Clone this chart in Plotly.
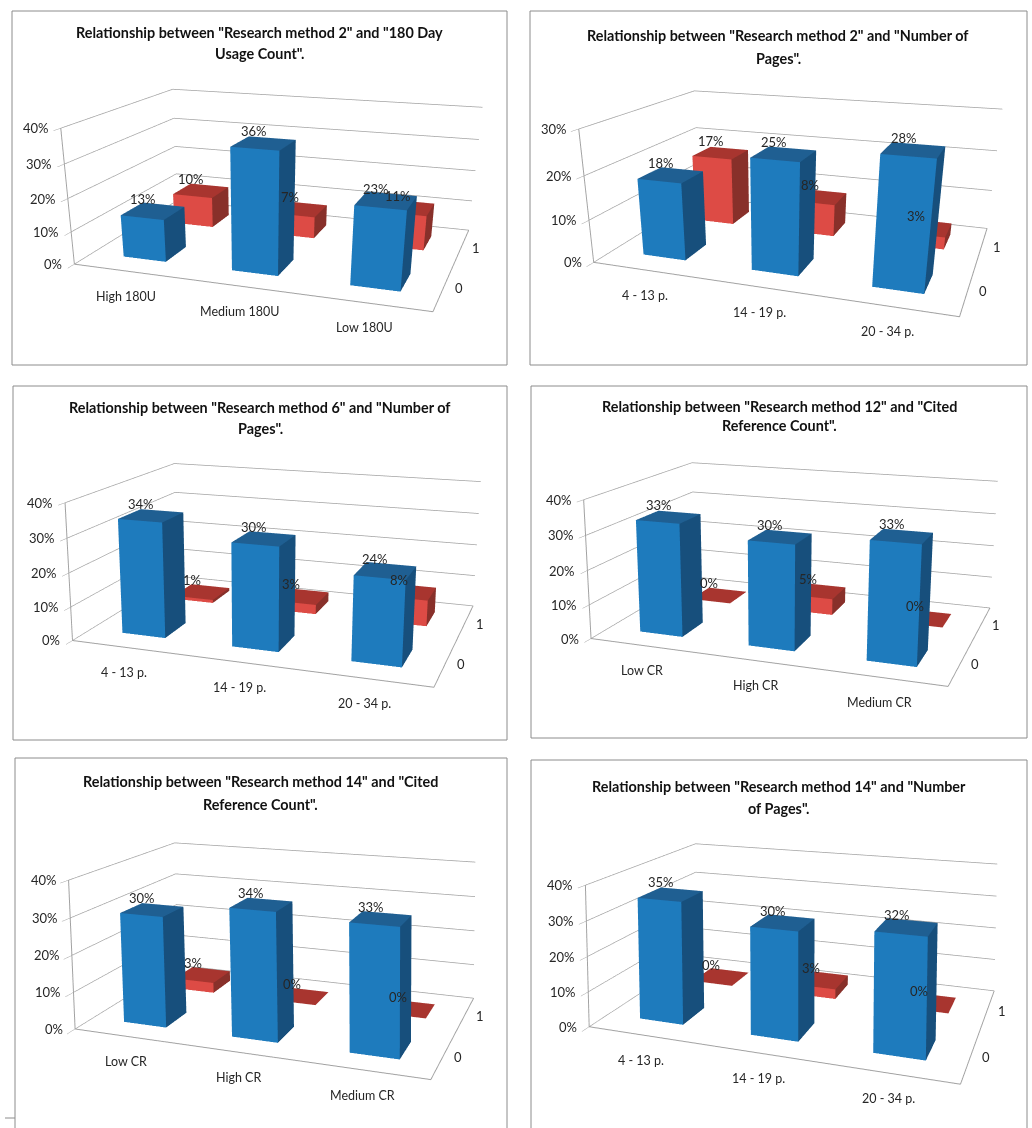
import plotly.graph_objects as go

# ---------- data ----------
title_lines = [
    ['Relationship between "Research method 2" and "180 Day', 'Usage Count".'],
    ['Relationship between "Research method 2" and "Number of', 'Pages".'],
    ['Relationship between "Research method 6" and "Number of', 'Pages".'],
    ['Relationship between "Research method 12" and "Cited', 'Reference Count".'],
    ['Relationship between "Research method 14" and "Cited', 'Reference Count".'],
    ['Relationship between "Research method 14" and "Number', 'of Pages".'],
]
categories = [
    ["High 180U", "Medium 180U", "Low 180U"],
    ["4 - 13 p.", "14 - 19 p.", "20 - 34 p."],
    ["4 - 13 p.", "14 - 19 p.", "20 - 34 p."],
    ["Low CR", "High CR", "Medium CR"],
    ["Low CR", "High CR", "Medium CR"],
    ["4 - 13 p.", "14 - 19 p.", "20 - 34 p."],
]
series_0 = [[13, 36, 23], [18, 25, 28], [34, 30, 24], [33, 30, 33], [30, 34, 33], [35, 30, 32]]
series_1 = [[10, 7, 11], [17, 8, 3], [1, 3, 8], [0, 5, 0], [3, 0, 0], [0, 3, 0]]
z_max = [40, 30, 40, 40, 40, 40]
z_ticks = [[0, 10, 20, 30, 40], [0, 10, 20, 30], [0, 10, 20, 30, 40],
           [0, 10, 20, 30, 40], [0, 10, 20, 30, 40], [0, 10, 20, 30, 40]]
depth_ticks = [0, 1]

# ---------- layout, in pixels ----------
W, H = 1032, 1128
frames = [(12, 11, 507, 365), (530, 11, 1027, 365), (13, 386, 507, 740),
          (531, 386, 1027, 738), (15, 758, 507, 1140), (531, 760, 1027, 1140)]
title_pos = [(259, 32, 54), (778, 36, 58), (260, 407, 429),
             (779, 406, 426), (260, 781, 804), (779, 786, 808)]
plots = [(0, 0, 516, 700), (518, 0, 1032, 600), (0, 170, 516, 970),
         (518, 170, 1032, 970), (0, 428, 760, 1128), (568, 428, 1032, 1128)]
eyes = [(1.364, -4.194, 1.151), (1.228, -3.800, 1.109), (1.421, -4.327, 1.193),
        (1.488, -4.317, 1.186), (1.706, -3.856, 1.337), (1.397, -3.969, 1.275)]
centers = [(0.119, -0.728, -0.626), (0.053, -0.608, -0.452), (-0.073, -0.173, -0.022),
           (-0.069, -0.171, -0.026), (0.125, 1.287, 0.706), (-0.254, 0.665, 0.766)]
aspects = [(1.844, 1.270, 0.692), (1.975, 1.334, 0.728), (1.696, 1.183, 0.658),
           (1.696, 1.149, 0.668), (1.798, 0.975, 0.748), (1.795, 1.164, 0.701)]

BLUE = ("#1E7BBD", "#174F7C", "#1F5F92")
RED = ("#DD4B45", "#88302A", "#A8352F")
BAR_W, BAR_D = 0.20, 0.20
GREY = "#A2A2A2"
TXT = "#262626"
X0, X1, Y0, Y1 = -0.5, 2.5, -0.5, 1.5


def box_mesh(vals, yc, cols, scene):
    xs, ys, zs, i, j, k, fc = [], [], [], [], [], [], []
    for c, v in enumerate(vals):
        x0, x1 = c - BAR_W, c + BAR_W
        y0, y1 = yc - BAR_D, yc + BAR_D
        n = len(xs)
        xs += [x0, x1, x1, x0, x0, x1, x1, x0]
        ys += [y0, y0, y1, y1, y0, y0, y1, y1]
        zs += [0, 0, 0, 0, v, v, v, v]
        faces = [((0, 1, 5), 0), ((0, 5, 4), 0),  # front
                 ((1, 2, 6), 1), ((1, 6, 5), 1),  # side
                 ((4, 5, 6), 2), ((4, 6, 7), 2)]  # top
        for (a, b, d), col in faces:
            i.append(n + a); j.append(n + b); k.append(n + d); fc.append(cols[col])
    return go.Mesh3d(x=xs, y=ys, z=zs, i=i, j=j, k=k, facecolor=fc, flatshading=True,
                     lighting=dict(ambient=1, diffuse=0, specular=0, fresnel=0),
                     hoverinfo="skip", showscale=False, scene=scene)


fig = go.Figure()
annos, shapes = [], []
for p in range(6):
    sc = "scene" if p == 0 else f"scene{p + 1}"
    fig.add_trace(box_mesh(series_0[p], 0, BLUE, sc))
    fig.add_trace(box_mesh(series_1[p], 1, RED, sc))
    tx, ty, tz = [], [], []
    for b in (-0.5, 0.5, 1.5, 2.5):
        tx += [b, b, None]; ty += [Y0, Y0 - 0.08, None]; tz += [0, 0, None]
    for b in (-0.5, 0.5, 1.5):
        tx += [X1, X1 + 0.06, None]; ty += [b, b, None]; tz += [0, 0, None]
    fig.add_trace(go.Scatter3d(x=tx, y=ty, z=tz, mode="lines", line=dict(color=GREY, width=1.5),
                               hoverinfo="skip", showlegend=False, scene=sc))
    l, t, r, b = frames[p]
    shapes.append(dict(type="rect", xref="paper", yref="paper", x0=l / W, x1=r / W,
                       y0=1 - t / H, y1=1 - b / H, line=dict(color="#8C8C8C", width=1)))
    tx0, ty1, ty2 = title_pos[p]
    for line, yy in zip(title_lines[p], (ty1, ty2)):
        annos.append(dict(xref="paper", yref="paper", x=tx0 / W, y=1 - yy / H, xanchor="center",
                          yanchor="middle", text="<b>" + line + "</b>", showarrow=False,
                          font=dict(family="Lato", size=14.4, color="#111111")))
    ann3d = []
    # value labels
    for s, vals in enumerate((series_0[p], series_1[p])):
        for c, v in enumerate(vals):
            ann3d.append(dict(x=c, y=s, z=v, text=f"{v}%", showarrow=False, yanchor="bottom",
                              xshift=-10, yshift=2, font=dict(family="Lato", size=13, color=TXT)))
    # tick labels, anchored to the axes in data coordinates
    for c, lab in enumerate(categories[p]):
        ann3d.append(dict(x=c, y=Y0, z=0, text=lab, showarrow=False, xanchor="center", yanchor="middle",
                          xshift=-2, yshift=-25, font=dict(family="Lato", size=12.5, color=TXT)))
    for d in depth_ticks:
        ann3d.append(dict(x=X1, y=d, z=0, text=str(d), showarrow=False, xanchor="center", yanchor="middle",
                          xshift=15, yshift=-1, font=dict(family="Lato", size=13, color=TXT)))
    for z in z_ticks[p]:
        ann3d.append(dict(x=X0, y=Y0, z=z, text=f"{z}%", showarrow=False, xanchor="right", yanchor="middle",
                          xshift=-10, font=dict(family="Lato", size=13, color=TXT)))
    axis_common = dict(showbackground=False, zeroline=False, title="", showspikes=False,
                       showline=True, linecolor=GREY, linewidth=2, showticklabels=False)
    L, T, R, B = plots[p]
    fig.update_layout(**{sc: dict(
        domain=dict(x=[L / W, R / W], y=[1 - B / H, 1 - T / H]),
        xaxis=dict(range=[X0, X1], tickvals=[0, 1, 2], ticktext=categories[p], ticks="",
                   showgrid=False, **axis_common),
        yaxis=dict(range=[Y0, Y1], tickvals=depth_ticks, ticks="",
                   showgrid=False, **axis_common),
        zaxis=dict(range=[0, z_max[p]], tickvals=z_ticks[p], ticktext=[f"{z}%" for z in z_ticks[p]],
                   ticks="outside", ticklen=3, tickcolor=GREY, showgrid=True, gridcolor=GREY,
                   gridwidth=1.5, **axis_common),
        aspectmode="manual", aspectratio=dict(zip("xyz", aspects[p])),
        camera=dict(eye=dict(zip("xyz", eyes[p])), center=dict(zip("xyz", centers[p])),
                    up=dict(x=0, y=0, z=1)),
        annotations=ann3d,
    )})

shapes.append(dict(type="line", xref="paper", yref="paper", x0=5 / W, x1=15 / W,
                   y0=1 - 1118 / H, y1=1 - 1118 / H, line=dict(color="#8C8C8C", width=1)))
fig.update_layout(width=W, height=H, margin=dict(l=0, r=0, t=0, b=0), showlegend=False,
                  paper_bgcolor="white", annotations=annos, shapes=shapes)
fig.write_html("out.html", config=dict(displayModeBar=False),
               post_script="document.body.style.margin='0';")
